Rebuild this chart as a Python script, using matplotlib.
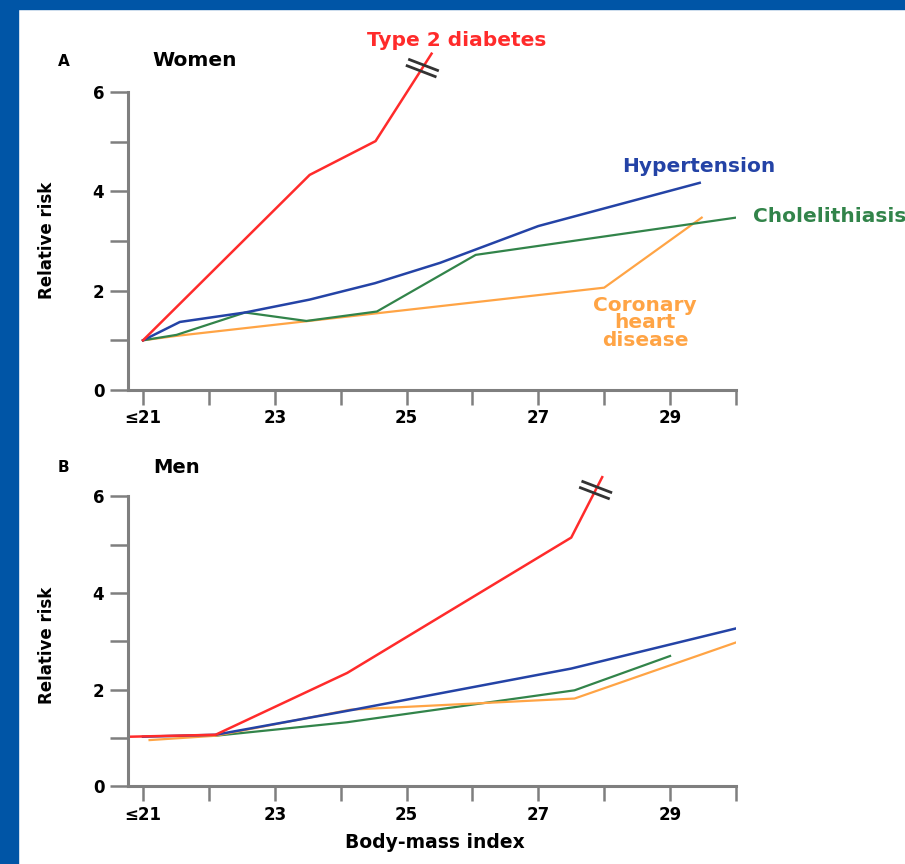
import numpy as np
import matplotlib.pyplot as plt
from matplotlib.patches import Rectangle
from matplotlib.transforms import Affine2D, ScaledTranslation


# BMI categories on the x axis
bmi_ticks = [21, 22, 23, 24, 25, 26, 27, 28, 29, 30]
bmi_labels = ['≤21', '', '23', '', '25', '', '27', '', '29', '']
risk_ticks = [0, 1, 2, 3, 4, 5, 6]
risk_labels = ['0', '', '2', '', '4', '', '6']

# Panel A - women
w_diab_x = [21.0, 23.53, 24.53, 25.38]
w_diab_y = [1.0, 4.33, 5.01, 6.77]
w_hyp_x = [21.0, 21.56, 22.55, 23.53, 24.52, 25.51, 27.0, 29.45]
w_hyp_y = [1.0, 1.37, 1.56, 1.82, 2.15, 2.56, 3.30, 4.17]
w_chol_x = [21.0, 21.51, 22.55, 23.48, 24.55, 26.05, 30.0]
w_chol_y = [1.0, 1.11, 1.56, 1.39, 1.58, 2.72, 3.47]
w_chd_x = [21.0, 21.51, 28.0, 29.48]
w_chd_y = [1.0, 1.09, 2.06, 3.47]

# Panel B - men
m_diab_x = [20.8, 22.1, 24.1, 27.5, 27.97]
m_diab_y = [1.03, 1.07, 2.35, 5.15, 6.4]
m_hyp_x = [21.0, 22.1, 24.2, 27.5, 30.0]
m_hyp_y = [1.03, 1.07, 1.59, 2.44, 3.27]
m_chol_x = [22.1, 24.1, 27.55, 29.0]
m_chol_y = [1.05, 1.33, 1.99, 2.70]
m_chd_x = [21.1, 22.1, 24.15, 27.55, 30.0]
m_chd_y = [0.96, 1.05, 1.59, 1.82, 2.98]

red = '#ff2b2b'
blue = '#2443a6'
green = '#32844a'
orange = '#ffa445'
gray = '#7f7f7f'
frame_blue = '#0055a6'


def style_axes(ax):
    ax.set_xlim(20.772, 30.0)
    ax.set_ylim(0, 7)
    ax.spines['top'].set_visible(False)
    ax.spines['right'].set_visible(False)
    for s in ('left', 'bottom'):
        ax.spines[s].set_color(gray)
        ax.spines[s].set_linewidth(2.2)
    ax.spines['left'].set_bounds(0, 6)
    ax.set_xticks(bmi_ticks)
    ax.set_xticklabels(bmi_labels)
    ax.set_yticks(risk_ticks)
    ax.set_yticklabels(risk_labels)
    ax.tick_params(axis='x', length=11, width=1.8, color=gray, pad=3, labelsize=12)
    ax.tick_params(axis='y', length=13, width=1.8, color=gray, pad=4, labelsize=12)
    for lab in ax.get_xticklabels() + ax.get_yticklabels():
        lab.set_fontweight('bold')
    ax.set_ylabel('Relative risk', fontsize=12, fontweight='bold')


def break_mark(ax, xs, ys, x):
    y = np.interp(x, xs, ys)
    ang = np.deg2rad(-21)
    dx, dy = 15 * np.cos(ang), 15 * np.sin(ang)
    nx, ny = -3.3 * np.sin(ang), 3.3 * np.cos(ang)
    tr = Affine2D() + ScaledTranslation(x, y, ax.transData)
    for s in (-1, 1):
        ax.plot([-dx + s * nx, dx + s * nx], [-dy + s * ny, dy + s * ny],
                transform=tr, color='#333333', lw=2, clip_on=False)


fig = plt.figure(figsize=(9.05, 8.64), dpi=100)

# Panel A
ax1 = fig.add_axes([0.1414, 0.5486, 0.6718, 0.4025])
ax1.plot(w_chd_x, w_chd_y, color=orange, lw=1.6)
ax1.plot(w_chol_x, w_chol_y, color=green, lw=1.6)
ax1.plot(w_hyp_x, w_hyp_y, color=blue, lw=1.8)
ax1.plot(w_diab_x, w_diab_y, color=red, lw=1.8)
style_axes(ax1)
ax1.yaxis.set_label_coords(-0.118, 0.431)
break_mark(ax1, w_diab_x, w_diab_y, 25.24)

ax1.text(25.76, 7.03, 'Type 2 diabetes', color=red, fontsize=14.5, fontweight='bold',
         ha='center', va='center', clip_on=False)
ax1.text(29.44, 4.49, 'Hypertension', color=blue, fontsize=14.5, fontweight='bold',
         ha='center', va='center')
ax1.text(30.26, 3.49, 'Cholelithiasis', color=green, fontsize=14.5, fontweight='bold',
         ha='left', va='center', clip_on=False)
ax1.text(28.62, 1.35, 'Coronary\nheart\ndisease', color=orange, fontsize=14.5,
         fontweight='bold', ha='center', va='center', linespacing=0.88)

# Panel B
ax2 = fig.add_axes([0.1414, 0.0897, 0.6718, 0.3916])
ax2.plot(m_chol_x, m_chol_y, color=green, lw=1.6)
ax2.plot(m_chd_x, m_chd_y, color=orange, lw=1.6)
ax2.plot(m_hyp_x, m_hyp_y, color=blue, lw=1.8)
ax2.plot(m_diab_x, m_diab_y, color=red, lw=1.8)
style_axes(ax2)
ax2.yaxis.set_label_coords(-0.118, 0.418)
break_mark(ax2, m_diab_x, m_diab_y, 27.87)

# panel titles and x label
fig.text(58 / 905, 1 - 61 / 864, 'A', fontsize=11, fontweight='bold', ha='left', va='center')
fig.text(152 / 905, 1 - 60 / 864, 'Women', fontsize=14.5, fontweight='bold', ha='left', va='center')
fig.text(58 / 905, 1 - 467 / 864, 'B', fontsize=11, fontweight='bold', ha='left', va='center')
fig.text(153 / 905, 1 - 467 / 864, 'Men', fontsize=14, fontweight='bold', ha='left', va='center')
fig.text(435 / 905, 1 - 842 / 864, 'Body-mass index', fontsize=13.5, fontweight='bold',
         ha='center', va='center')

# blue slide frame on top and left
fig.add_artist(Rectangle((0, 1 - 9 / 864), 1, 9 / 864, transform=fig.transFigure,
                         color=frame_blue, zorder=10))
fig.add_artist(Rectangle((0, 0), 18 / 905, 1, transform=fig.transFigure,
                         color=frame_blue, zorder=10))

fig.savefig('out.png', dpi=100)
